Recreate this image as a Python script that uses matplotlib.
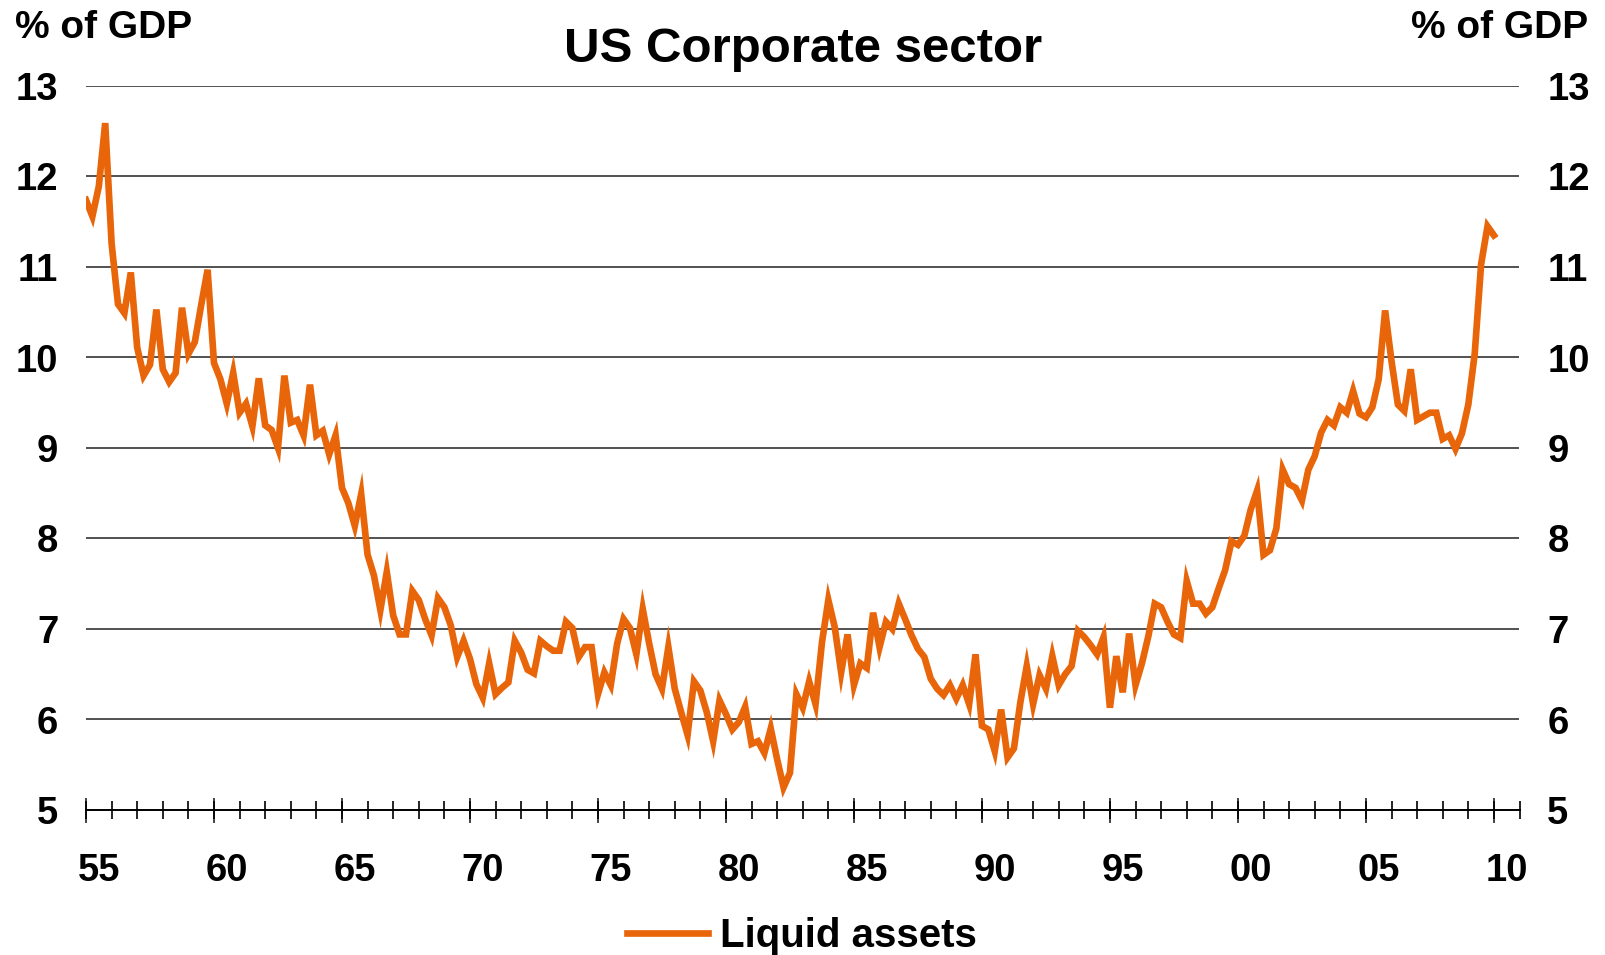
import numpy as np
import matplotlib
matplotlib.use("Agg")
import matplotlib.pyplot as plt

plt.rcParams['font.family'] = ['Liberation Sans', 'DejaVu Sans']
plt.rcParams['font.weight'] = 'bold'

# ---- data (quarterly, 1955Q1 .. 2010Q1), % of GDP ----
start_year = 1955
liquid_assets = [
    11.74, 11.56, 11.89, 12.59, 11.26, 10.59, 10.49, 10.94, 10.11, 9.80,
    9.92, 10.53, 9.87, 9.73, 9.83, 10.55, 10.04, 10.17, 10.58, 10.97,
    9.94, 9.76, 9.49, 9.83, 9.39, 9.49, 9.24, 9.77, 9.25, 9.20,
    9.00, 9.80, 9.28, 9.31, 9.14, 9.70, 9.14, 9.19, 8.93, 9.14,
    8.56, 8.39, 8.14, 8.49, 7.82, 7.59, 7.21, 7.63, 7.15, 6.94,
    6.94, 7.42, 7.32, 7.11, 6.93, 7.34, 7.24, 7.04, 6.69, 6.87,
    6.67, 6.39, 6.24, 6.62, 6.28, 6.35, 6.41, 6.87, 6.74, 6.55,
    6.51, 6.87, 6.81, 6.76, 6.76, 7.08, 7.01, 6.69, 6.80, 6.80,
    6.28, 6.52, 6.38, 6.84, 7.11, 7.01, 6.72, 7.22, 6.84, 6.50,
    6.34, 6.80, 6.34, 6.08, 5.83, 6.42, 6.32, 6.08, 5.76, 6.21,
    6.06, 5.89, 5.97, 6.14, 5.73, 5.76, 5.63, 5.90, 5.56, 5.25,
    5.41, 6.28, 6.13, 6.42, 6.17, 6.85, 7.32, 7.02, 6.52, 6.94,
    6.38, 6.62, 6.57, 7.18, 6.80, 7.08, 7.00, 7.28, 7.11, 6.93,
    6.78, 6.69, 6.45, 6.34, 6.27, 6.38, 6.23, 6.38, 6.17, 6.72,
    5.93, 5.89, 5.65, 6.11, 5.58, 5.68, 6.19, 6.59, 6.17, 6.49,
    6.34, 6.70, 6.38, 6.50, 6.59, 6.98, 6.91, 6.82, 6.72, 6.91,
    6.13, 6.70, 6.30, 6.95, 6.38, 6.62, 6.92, 7.28, 7.24, 7.08,
    6.94, 6.90, 7.53, 7.28, 7.28, 7.17, 7.24, 7.45, 7.65, 7.97,
    7.93, 8.03, 8.32, 8.53, 7.82, 7.87, 8.11, 8.76, 8.60, 8.56,
    8.42, 8.76, 8.91, 9.17, 9.31, 9.25, 9.45, 9.39, 9.63, 9.38,
    9.34, 9.45, 9.76, 10.52, 9.96, 9.48, 9.41, 9.87, 9.31, 9.35,
    9.39, 9.39, 9.10, 9.14, 8.99, 9.16, 9.48, 10.04, 11.03, 11.45,
    11.35,
]
years = start_year + np.arange(len(liquid_assets)) / 4.0

label_years = list(range(1955, 2011, 5))
tick_labels = ['55', '60', '65', '70', '75', '80', '85', '90', '95', '00', '05', '10']
y_ticks = [5, 6, 7, 8, 9, 10, 11, 12, 13]

title = 'US Corporate sector'
unit_label = '% of GDP'
series_name = 'Liquid assets'

ORANGE = '#E8650A'
W, H = 1606, 955
fig = plt.figure(figsize=(W / 100, H / 100), dpi=100)
left, right, top, bottom = 86, 1519.5, 86, 810
ax = fig.add_axes([left / W, 1 - bottom / H, (right - left) / W, (bottom - top) / H])

ax.plot(years, liquid_assets, color=ORANGE, lw=4.8, solid_joinstyle='miter',
        label=series_name, zorder=3)

ax.set_xlim(1955, 2011)
ax.set_ylim(5, 13)

for s in ['top', 'left', 'right']:
    ax.spines[s].set_visible(False)
ax.spines['bottom'].set_color('black')
ax.spines['bottom'].set_linewidth(1.4)

ax.set_yticks(y_ticks)
ax.set_yticklabels([str(v) for v in y_ticks])
ax.tick_params(axis='y', length=0, pad=20, labelsize=27.5, labelleft=True, labelright=True)
for lab in ax.get_yticklabels():
    lab.set_fontweight('bold')
ax.yaxis.grid(True, color='#333333', lw=1.2)
ax.set_axisbelow(True)

# labels centred within the year interval
ax.set_xticks([y + 0.5 for y in label_years])
ax.set_xticklabels(tick_labels)
ax.tick_params(axis='x', which='major', length=0, pad=31, labelsize=27.5)
ax.set_xticks(np.arange(1955, 2012), minor=True)
ax.tick_params(axis='x', which='minor', direction='inout', length=13.5, width=1.2,
               color='black')

sec = ax.secondary_xaxis(0)
sec.set_xticks(label_years)
sec.set_xticklabels([])
sec.tick_params(direction='inout', length=18, width=1.4, color='#444444')
sec.spines['bottom'].set_visible(False)

fig.text(0.5 * (left + right) / W, 1 - 62 / H, title, ha='center', va='baseline',
         fontsize=35.5, fontweight='bold')
fig.text(15 / W, 1 - 38 / H, unit_label, ha='left', va='baseline', fontsize=28,
         fontweight='bold')
fig.text(1588 / W, 1 - 38 / H, unit_label, ha='right', va='baseline', fontsize=28,
         fontweight='bold')

leg = fig.legend(loc='center', bbox_to_anchor=(802 / W, 1 - 936 / H), frameon=False,
                 fontsize=29, handlelength=2.0, handletextpad=0.3, borderpad=0,
                 borderaxespad=0)
for t in leg.get_texts():
    t.set_fontweight('bold')

fig.savefig('out.png', dpi=100)
